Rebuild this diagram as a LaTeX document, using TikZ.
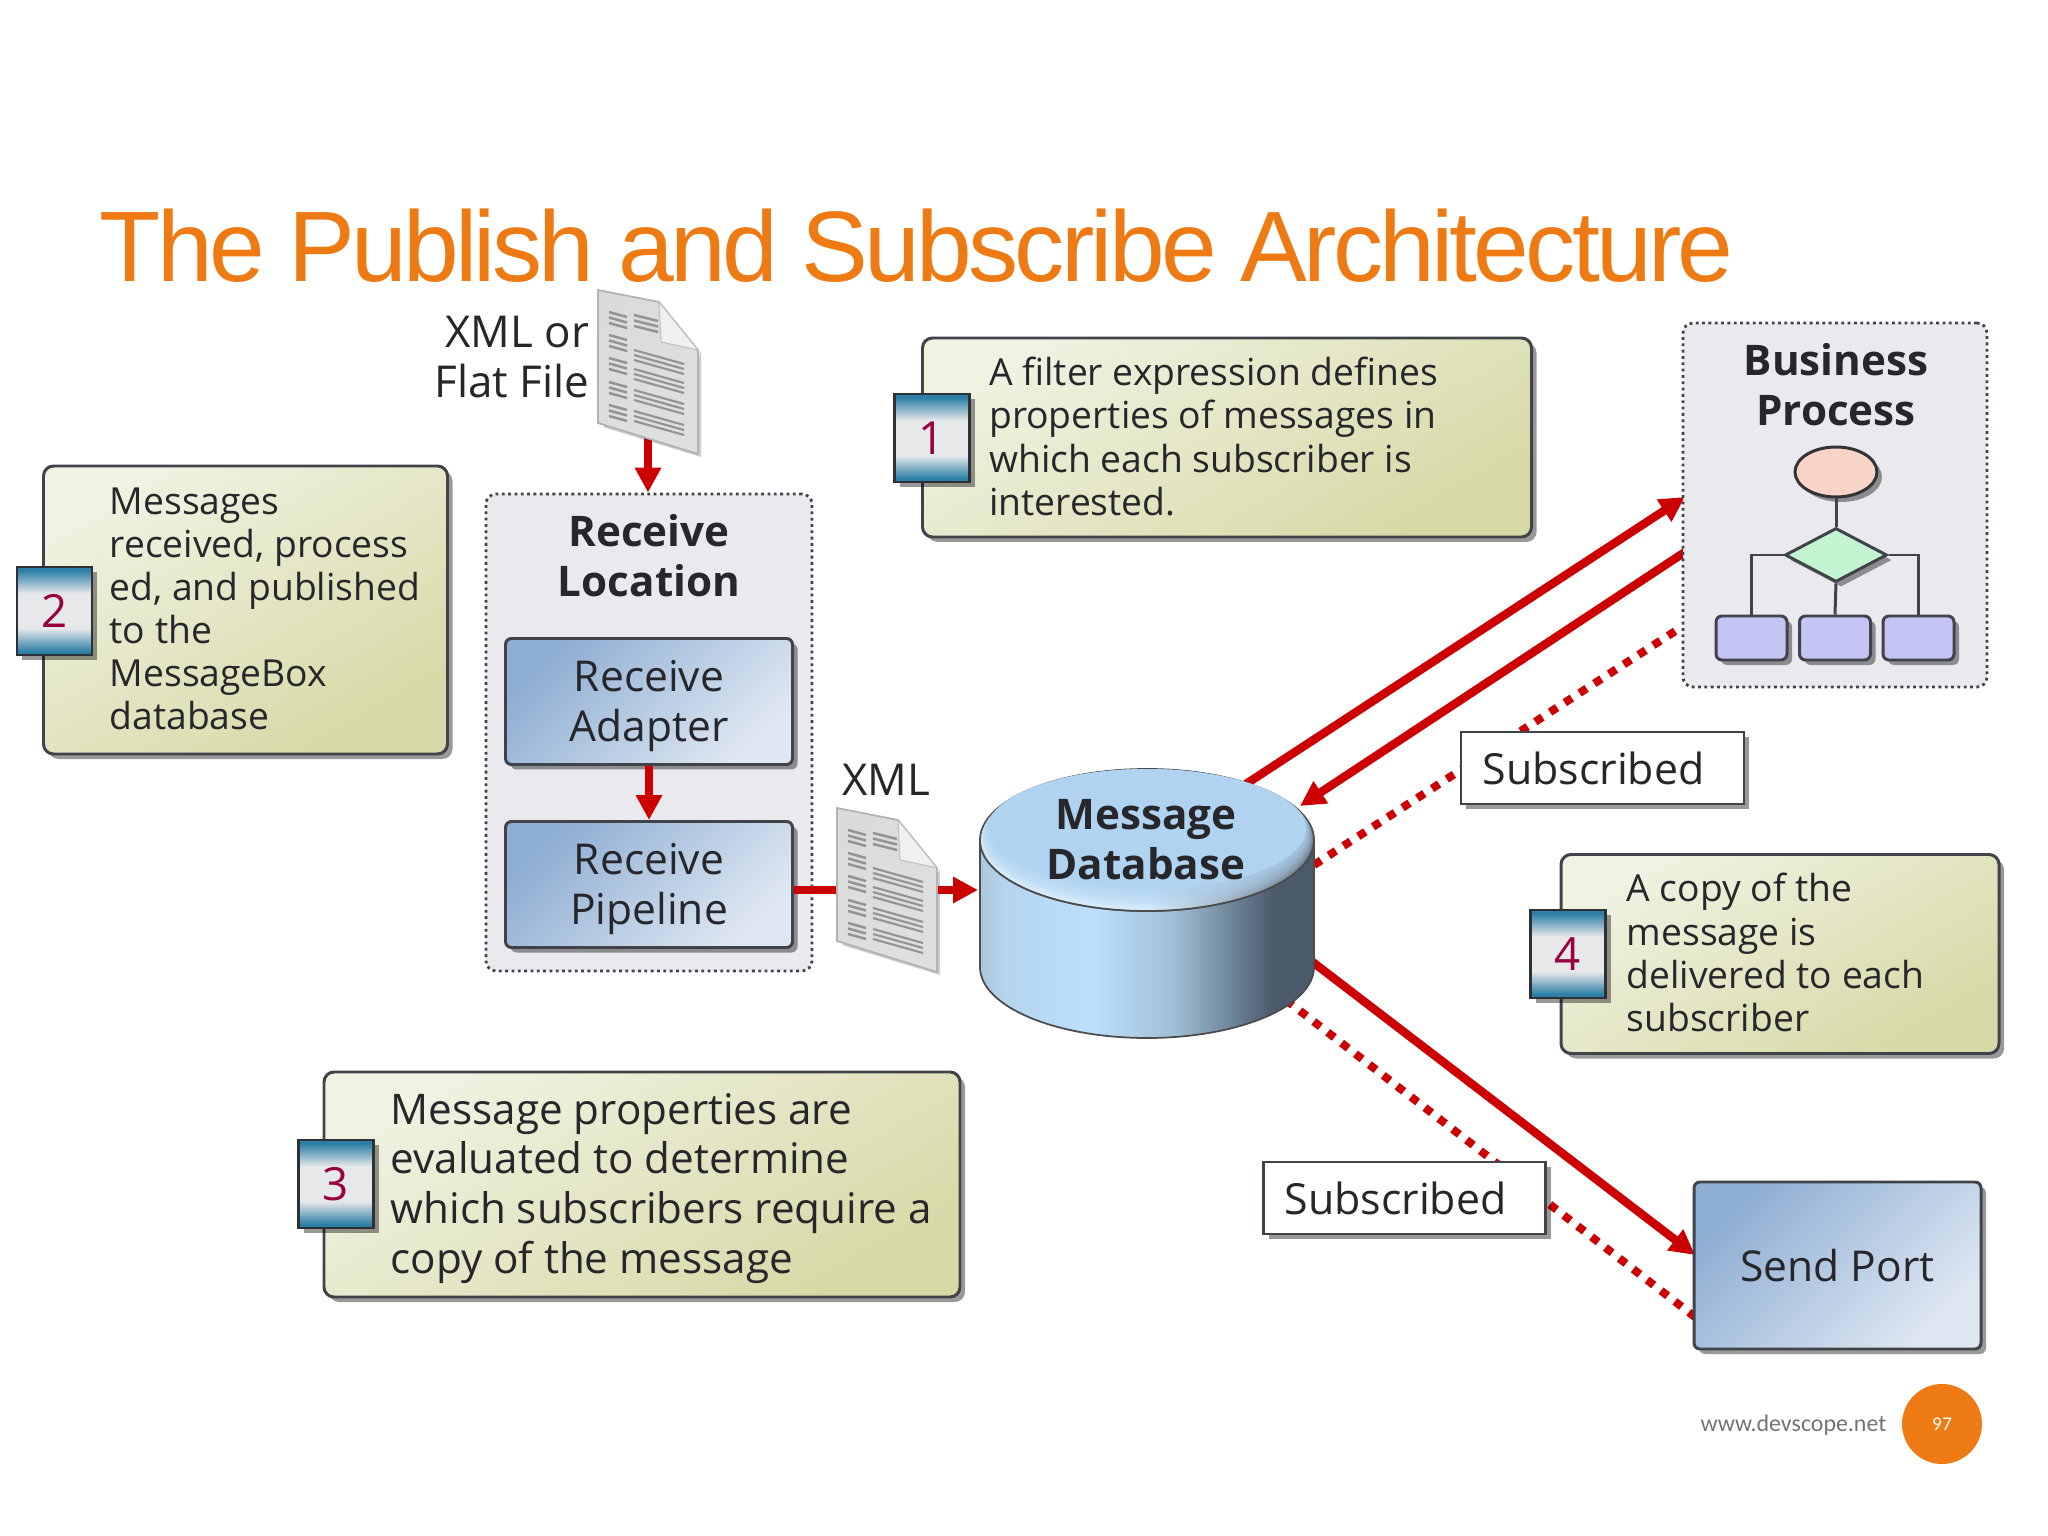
\documentclass[tikz,border=0pt]{standalone}
\usepackage{fontspec}
\usepackage{xcolor}
\usetikzlibrary{arrows.meta,shadows,shapes.geometric,backgrounds}
\setmainfont{Open Sans}
\newfontfamily\titlefont[LetterSpace=-3.8]{Liberation Sans}
\newfontfamily\footfont{Carlito}
\definecolor{slideOrange}{HTML}{EE7A14}
\definecolor{arrowRed}{HTML}{CC0000}
\definecolor{inkDark}{HTML}{26262B}
\definecolor{edgeDark}{HTML}{40444A}
\definecolor{noteLight}{HTML}{F0F2E2}
\definecolor{noteDark}{HTML}{D7D9A6}
\definecolor{blueDark}{HTML}{8FAED3}
\definecolor{blueLight}{HTML}{DFE8F2}
\definecolor{groupGray}{HTML}{EAEAEE}
\definecolor{badgeTeal}{HTML}{2C7EA6}
\definecolor{badgeMid}{HTML}{E6E8EA}
\definecolor{badgeInk}{HTML}{99003F}
\definecolor{dbLight}{HTML}{BCDFFB}
\definecolor{dbTop}{HTML}{AFD3F1}
\definecolor{dbDark}{HTML}{4A5A6A}
\definecolor{dbRim}{HTML}{DDEFFC}
\definecolor{startPink}{HTML}{F7D3C8}
\definecolor{gateGreen}{HTML}{C3F5D2}
\definecolor{taskBlue}{HTML}{C5C5F5}
\pgfdeclareverticalshading{badgeshade}{100bp}{
  color(0bp)=(badgeTeal); color(27bp)=(badgeTeal); color(40bp)=(badgeMid); color(60bp)=(badgeMid); color(73bp)=(badgeTeal); color(100bp)=(badgeTeal)}
\pgfdeclarehorizontalshading{dbbody}{100bp}{
  color(0bp)=(dbLight!75!gray); color(25bp)=(dbLight!75!gray); color(29bp)=(dbLight!90!gray); color(42bp)=(dbLight); color(54bp)=(dbLight!75!dbDark);
  color(60bp)=(dbLight!45!dbDark); color(69bp)=(dbDark); color(75bp)=(dbDark); color(100bp)=(dbDark)}
\pgfdeclarehorizontalshading{dbrimshade}{100bp}{
  color(0bp)=(dbRim); color(50bp)=(dbRim); color(62bp)=(dbRim!60!dbDark); color(75bp)=(dbDark!85!white); color(100bp)=(dbDark)}
\tikzset{
  softshadow/.style={drop shadow={shadow xshift=.05cm,shadow yshift=-.05cm,fill=black,opacity=.4}},
  notebox/.style={draw=edgeDark,line width=.85pt,rounded corners=.1cm,left color=noteLight,right color=noteDark,shading angle=30,softshadow},
  notetext/.style={anchor=west,inner sep=0pt,align=left,text=inkDark,font=\fontsize{10.6}{12.25}\selectfont},
  bigtext/.style={notetext,font=\fontsize{12}{14.2}\selectfont},
  badge/.style={draw=edgeDark!70!black,line width=.85pt,shading=badgeshade,minimum width=.75cm,minimum height=.88cm,inner sep=0pt,
    text=badgeInk,font=\fontsize{13}{14}\selectfont,softshadow},
  groupbox/.style={draw=edgeDark,line width=.8pt,densely dotted,rounded corners=.1cm,fill=groupGray},
  grouptitle/.style={align=center,inner sep=0pt,text=inkDark,font=\fontsize{12}{14.2}\selectfont\bfseries},
  bluebox/.style={draw=edgeDark,line width=.85pt,rounded corners=.06cm,left color=blueDark,right color=blueLight,shading angle=45,
    align=center,inner sep=0pt,text=inkDark,font=\fontsize{12.1}{14.2}\selectfont,softshadow},
  bluetext/.style={align=center,inner sep=0pt,text=inkDark,font=\fontsize{12.1}{14.2}\selectfont},
  tagbox/.style={draw=edgeDark,line width=.7pt,fill=white,inner sep=0pt,text=inkDark,font=\fontsize{12.2}{14.2}\selectfont,
    execute at end node=\hspace*{.18cm},softshadow},
  plainlabel/.style={align=right,inner sep=0pt,text=inkDark,font=\fontsize{12.5}{14.2}\selectfont},
  task/.style={draw=edgeDark,line width=.85pt,rounded corners=.06cm,fill=taskBlue,minimum width=.71cm,minimum height=.44cm,inner sep=0pt,softshadow},
  flowline/.style={draw=edgeDark,line width=.85pt},
  redline/.style={draw=arrowRed,line width=2.4pt},
  redarrow/.style={redline,-{Triangle[width=.25cm,length=.25cm]}},
  reddots/.style={draw=arrowRed,line width=2.3pt,dash pattern=on 2.4pt off 2.6pt},
}
% one sheet of paper, x y = top left corner
\newcommand{\docicon}[3]{
  \begin{scope}[shift={(#2,#3)}]
    \node[minimum width=1cm,minimum height=1.64cm,inner sep=0pt] (#1) at (.5,-.82) {};
    \fill[black,opacity=.2] (.05,-1.37) -- (1.03,-1.67) -- (1.03,-.6) -- (.9,-1) -- cycle;
    \draw[draw=gray!60,line width=.5pt,left color=gray!28,right color=gray!25,shading angle=45]
      (0,0) -- (.61,-.12) -- (1,-.6) -- (1,-1.64) -- (0,-1.33) -- cycle;
    \draw[gray!50,fill=gray!12,line width=.3pt] (.61,-.12) -- (1,-.6) -- (.63,-.52) -- cycle;
    \foreach \r in {-.22,-.45,-.68,-.92,-1.15}
      \foreach \k in {0,.055,.11}
        \draw[gray!85,line width=.7pt] (.11,\r-\k) -- (.29,\r-\k-.05);
    \foreach \k in {0,.055,.11}
      \draw[gray!85,line width=.7pt] (.36,-.25-\k) -- (.6,-.31-\k);
    \foreach \r in {-.60,-.79,-1.0,-1.21}
      \foreach \k in {0,.05,.1}
        \draw[gray!85,line width=.6pt] (.36,\r-\k) -- (.86,\r-\k-.14);
  \end{scope}
}
\begin{document}
\begin{tikzpicture}
  \useasboundingbox (0,0) rectangle (20.48,-15.36);

  \node[anchor=base west,inner sep=0pt,text=slideOrange,font=\fontsize{28.5}{30}\titlefont] (title) at (.99,-2.82)
    {The Publish and Subscribe Architecture};

  % receive side
  \node[groupbox,minimum width=3.26cm,minimum height=4.77cm,inner sep=0pt] (rl) at (6.49,-7.325) {};
  \node[grouptitle] (rltitle) at (6.49,-5.56) {Receive\\Location};
  \node[bluebox,minimum width=2.87cm,minimum height=1.26cm] (adapter) at (6.49,-7.015) {};
  \node[bluebox,minimum width=2.87cm,minimum height=1.26cm] (pipeline) at (6.49,-8.845) {};
  \node[bluetext] (adapterlabel) at ([yshift=-.045cm]adapter.center) {Receive\\Adapter};
  \node[bluetext] (pipelinelabel) at ([yshift=-.045cm]pipeline.center) {Receive\\Pipeline};
  \draw[redarrow] (adapter.south) -- (pipeline.north);

  \docicon{docin}{5.98}{-2.9}
  \docicon{docxml}{8.37}{-8.08}
  \node[plainlabel,anchor=east] (docinlabel) at (5.9,-3.57) {XML or\\Flat File};
  \node[plainlabel] (docxmllabel) at (8.86,-7.8) {XML};

  \draw[redline] (pipeline.east |- docxml.west) -- (docxml.west);
  \draw[redarrow] (docxml.east) -- (docxml.east -| 9.78,0);

  % database
  \node[minimum width=3.34cm,minimum height=2.69cm,inner sep=0pt] (db) at (11.47,-9.035) {};
  \draw[draw=black!70,line width=.5pt,shading=dbbody]
    (9.8,-8.4) -- (9.8,-9.67) arc[start angle=180,end angle=360,x radius=1.67,y radius=.71]
    -- (13.14,-8.4) arc[start angle=0,end angle=-180,x radius=1.67,y radius=.71] -- cycle;
  \draw[draw=black!70,line width=.5pt,shading=dbrimshade]
    (11.47,-8.4) ellipse[x radius=1.67,y radius=.71];
  \foreach \i in {0,...,7}
    \fill[dbTop,opacity=.18] (11.47,-8.39+.0125*\i) ellipse[x radius=1.66-.008*\i,y radius=.7-.0125*\i];
  \fill[dbTop] (11.47,-8.29) ellipse[x radius=1.59,y radius=.6];
  \node[grouptitle] (dblabel) at (11.46,-8.4) {Message\\Database};

  % business process
  \node[groupbox,minimum width=3.04cm,minimum height=3.64cm,inner sep=0pt] (bp) at (18.35,-5.05) {};
  \node[grouptitle] (bptitle) at (18.36,-3.85) {Business\\Process};
  \node[draw=black!80,line width=.85pt,ellipse,fill=startPink,minimum width=.82cm,minimum height=.5cm,inner sep=0pt,softshadow] (bpstart) at (18.36,-4.72) {};
  \node[draw=edgeDark,line width=.85pt,diamond,aspect=1.9,fill=gateGreen,minimum width=1.02cm,minimum height=.54cm,inner sep=0pt,softshadow] (bpgate) at (18.36,-5.55) {};
  \node[task] (taska) at (17.515,-6.38) {};
  \node[task] (taskb) at (18.35,-6.38) {};
  \node[task] (taskc) at (19.185,-6.38) {};
  \draw[flowline] (bpstart) -- (bpgate);
  \draw[flowline] (bpgate.west) -| (taska.north);
  \draw[flowline] (bpgate.south) -- (taskb.north);
  \draw[flowline] (bpgate.east) -| (taskc.north);

  % send side
  \node[bluebox,minimum width=2.87cm,minimum height=1.67cm] (send) at (18.375,-12.655) {Send Port};
  \node[tagbox,minimum width=2.83cm,minimum height=.72cm] (subup) at (16.025,-7.68) {Subscribed};
  \node[tagbox,minimum width=2.82cm,minimum height=.72cm] (subdown) at (14.045,-11.98) {Subscribed};

  \begin{scope}[on background layer]
    \coordinate (dbouta) at (12.46,-7.84);
    \coordinate (dbina) at (13.0,-8.06);
    \coordinate (dboutb) at (13.14,-8.65);
    \coordinate (dboutc) at (13.1,-9.6);
    \coordinate (dboutd) at (12.86,-10.0);
    \coordinate (bpina) at (16.85,-4.97);
    \coordinate (bpouta) at (16.85,-5.52);
    \coordinate (bpoutb) at (16.8,-6.28);
    \coordinate (sendina) at (16.95,-12.55);
    \coordinate (sendinb) at (16.95,-13.17);
    \draw[redarrow] (dbouta) -- (bpina);
    \draw[redarrow] (bpouta) -- (dbina);
    \draw[reddots] (dboutb) -- (bpoutb);
    \draw[redarrow] (dboutc) -- (sendina);
    \draw[reddots] (dboutd) -- (sendinb);
    \draw[redarrow] (docin.center) -- (docin.center |- rl.north);
  \end{scope}

  % notes
  \node[notebox,minimum width=4.04cm,minimum height=2.88cm] (note2) at (2.455,-6.1) {};
  \node[notetext] (note2text) at (1.09,-6.09) {Messages\\received, process\\ed, and published\\to the\\MessageBox\\database};
  \node[badge] (badge2) at (.545,-6.11) {2};

  \node[notebox,minimum width=6.09cm,minimum height=1.99cm] (note1) at (12.27,-4.375) {};
  \node[notetext] (note1text) at (9.885,-4.365) {A filter expression defines\\properties of messages in\\which each subscriber is\\interested.};
  \node[badge] (badge1) at (9.32,-4.38) {1};

  \node[notebox,minimum width=6.36cm,minimum height=2.25cm] (note3) at (6.42,-11.845) {};
  \node[bigtext] (note3text) at (3.9,-11.885) {Message properties are\\evaluated to determine\\which subscribers require a\\copy of the message};
  \node[badge] (badge3) at (3.36,-11.84) {3};

  \node[notebox,minimum width=4.38cm,minimum height=1.99cm] (note4) at (17.8,-9.54) {};
  \node[notetext] (note4text) at (16.26,-9.525) {A copy of the\\message is\\delivered to each\\subscriber};
  \node[badge] (badge4) at (15.68,-9.54) {4};

  % footer
  \node[anchor=east,inner sep=0pt,text=gray!90!black,font=\fontsize{6.8}{8}\footfont] (site) at (18.87,-14.25) {www.devscope.net};
  \node[circle,fill=slideOrange,minimum size=.8cm,inner sep=0pt,text=white,font=\fontsize{5.5}{7}\footfont] (pagenum) at (19.42,-14.24) {97};
\end{tikzpicture}
\end{document}
